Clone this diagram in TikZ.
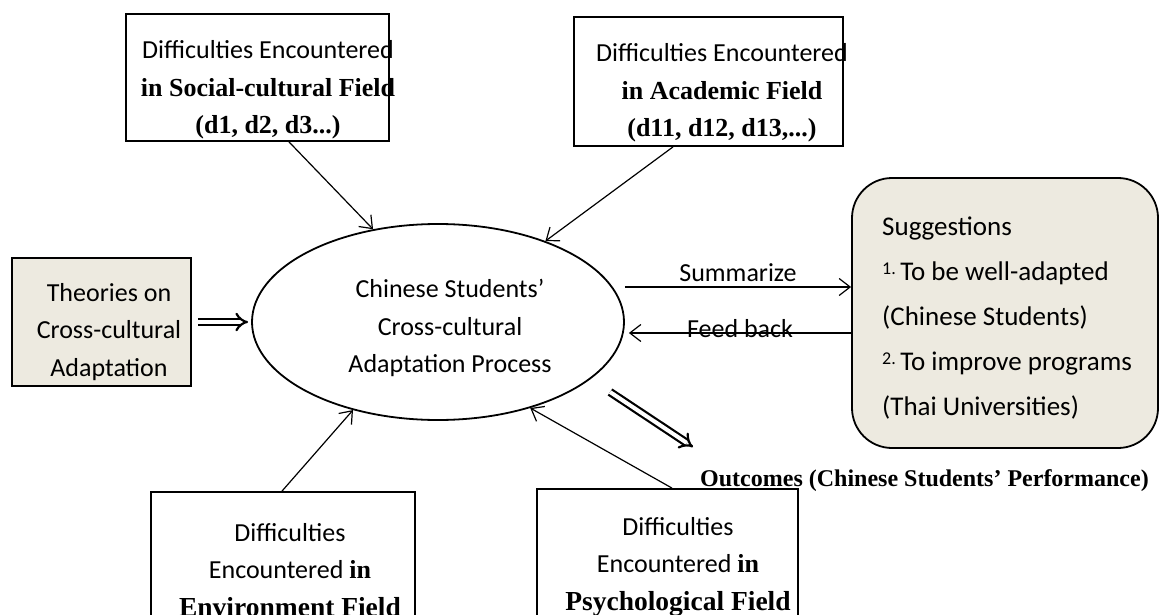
\documentclass[tikz,border=0pt]{standalone}
\usepackage{fontspec}
\setmainfont{Liberation Serif}
\setsansfont{Carlito}
\usepackage{tikz}
\usetikzlibrary{arrows.meta,shapes.geometric}
\definecolor{paper}{RGB}{237,234,224}
\newcommand{\sans}{\sffamily\fontsize{26}{37.5}\selectfont}
\newcommand{\bfr}{\rmfamily\bfseries}

\begin{document}
\begin{tikzpicture}[x=1pt,y=-1pt,
    box/.style={draw,line width=1.8pt,inner sep=0pt},
    txt/.style={align=center,inner sep=0pt,font=\sans},
    arr/.style={-{Straight Barb[length=11pt,width=17pt]},line width=1.2pt},
    dbl/.style={double,double distance=4pt,line width=2.2pt,-{Implies}}]
  \clip (0,0) rectangle (1159,615);

  % the four fields of difficulties
  \node[box,minimum width=263pt,minimum height=127pt] (soc) at (257.5,77.5) {};
  \node[txt] (soct) at (268,90) {Difficulties Encountered\\
    {\bfr in Social-cultural Field}\\ {\bfr (d1, d2, d3...)}};
  \node[box,minimum width=269pt,minimum height=129pt] (aca) at (708.5,81.5) {};
  \node[txt] (acat) at (722,93) {Difficulties Encountered\\
    {\bfr in Academic Field}\\ {\bfr (d11, d12, d13,...)}};
  \node[box,minimum width=264pt,minimum height=148pt] (env) at (283,566) {};
  \node[txt] (envt) at (290,570) {Difficulties\\ Encountered {\bfr in}\\
    {\bfr\fontsize{27.5}{37.5}\selectfont Environment Field}};
  \node[box,minimum width=261pt,minimum height=151pt] (psy) at (667.5,564.5) {};
  \node[txt] (psyt) at (678,567) {Difficulties\\ Encountered {\bfr in}\\
    {\bfr\fontsize{27.5}{37.5}\selectfont Psychological Field}};

  % theories
  \node[box,fill=paper,minimum width=179pt,minimum height=128pt] (theo) at (101.5,322) {};
  \node[txt] (theot) at (109,332) {Theories on\\ Cross-cultural\\ Adaptation};

  % process
  \node[box,ellipse,minimum width=372pt,minimum height=196pt] (proc) at (438,322) {};
  \node[txt] (proct) at (450,328) {Chinese Students'\\ Cross-cultural\\ Adaptation Process};

  % suggestions
  \node[box,fill=paper,rounded corners=40pt,minimum width=306pt,minimum height=270pt] (sug) at (1005,313) {};
  \node[txt,align=left,anchor=west,font=\sffamily\fontsize{27}{45}\selectfont] (sugt) at (882,318)
    {Suggestions\\
     {\fontsize{18}{18}\selectfont\raisebox{6pt}{1.}}\,To be well-adapted\\
     (Chinese Students)\\
     {\fontsize{18}{18}\selectfont\raisebox{6pt}{2.}}\,To improve programs\\
     (Thai Universities)};

  % outcomes
  \node[anchor=base west,inner sep=0pt,font=\bfr\fontsize{24}{24}\selectfont] (outc) at (700,486)
    {Outcomes (Chinese Students' Performance)};

  % connectors
  \draw[arr] (soc.south -| 289,0) -- (proc.125);
  \draw[arr] (aca.south -| 673,0) -- (proc.37);
  \draw[arr] (env.north -| 282,0) -- (proc.226);
  \draw[arr] (psy.north -| 672,0) -- (proc.317);
  %
  \draw[arr] (proc.east |- 0,287) -- (sug.west |- 0,287)
    node[midway,above=1pt,font=\sans] {Summarize};
  \draw[arr] (sug.west |- 0,333) -- ([xshift=4pt]proc.east |- 0,333)
    node[midway,anchor=base,yshift=-4pt,font=\sans] {Feed back};
  %
  \draw[dbl] ([xshift=6pt]theo.east) -- ([xshift=-3pt]proc.west);
  \coordinate (otail) at (610,392);
  \coordinate (otip) at (693,447);
  \draw[dbl] (otail) -- (otip);
\end{tikzpicture}
\end{document}
